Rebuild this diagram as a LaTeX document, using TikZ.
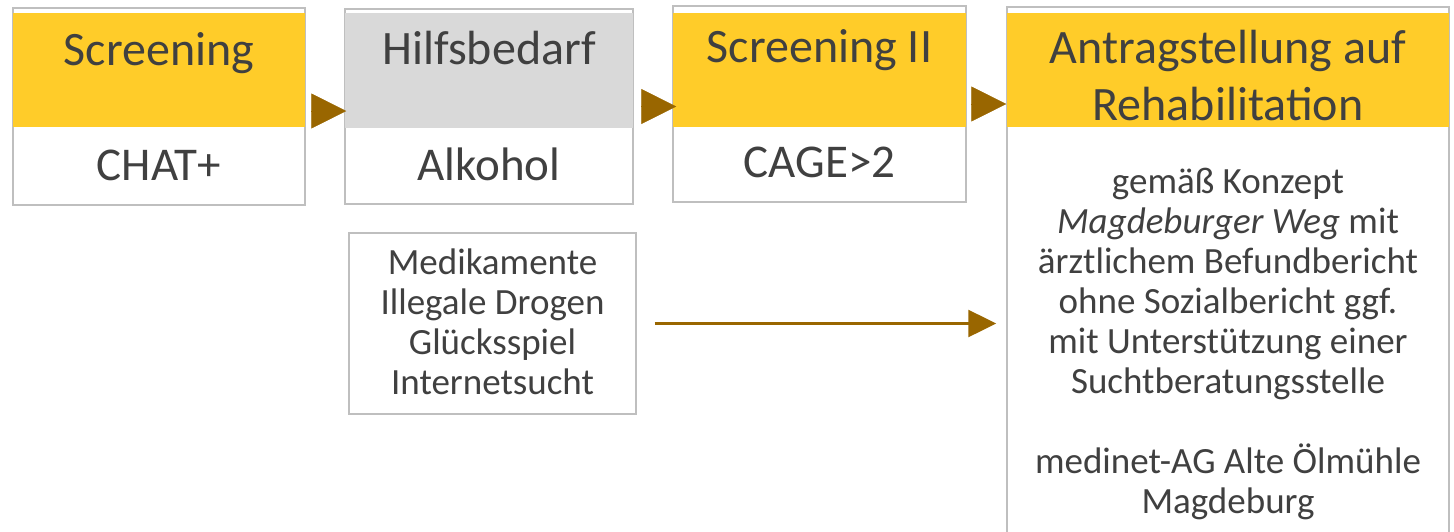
\documentclass[tikz,border=0pt]{standalone}
\usepackage{fontspec}
\setmainfont{Carlito}
\usetikzlibrary{arrows.meta,positioning,calc}
\definecolor{stageyellow}{RGB}{255,204,41}
\definecolor{stagegrey}{RGB}{217,217,217}
\definecolor{framegrey}{RGB}{191,191,191}
\definecolor{arrowbrown}{RGB}{153,102,0}
\definecolor{txtgrey}{RGB}{64,64,64}

\begin{document}
\begin{tikzpicture}[
    x=1pt, y=-1pt,
    frame/.style={rectangle, draw=framegrey, line width=1.5pt, fill=white, inner sep=0pt},
    head/.style={rectangle, fill=stageyellow, inner sep=0pt, minimum height=114pt},
    greyhead/.style={head, fill=stagegrey},
    title/.style={inner sep=0pt, anchor=base, text=txtgrey, align=center, font=\fontsize{48}{57}\selectfont},
    bodytxt/.style={inner sep=0pt, anchor=base, text=txtgrey, font=\fontsize{47}{56}\selectfont},
    smalltxt/.style={inner sep=0pt, anchor=base, text=txtgrey, align=center, font=\fontsize{37}{40}\selectfont},
    tri/.style={-{Triangle[length=35pt,width=35pt]}, arrowbrown, line width=0.5pt},
    flow/.style={-{Triangle[length=28pt,width=27pt]}, arrowbrown, line width=2.5pt},
]
    \clip (0,0) rectangle (1454,531);
    % stage 1
    \node[frame, minimum width=292pt, minimum height=197pt] (s1frame) at (159,106.5) {};
    \node[head, minimum width=292pt] (s1head) at (159,70) {};
    \node[title] (s1title) at (159,65) {Screening};
    \node[bodytxt] (s1body) at (159,180) {CHAT+};
    % stage 2
    \node[frame, minimum width=288pt, minimum height=195pt] (s2frame) at (489,106.5) {};
    \node[greyhead, minimum width=288pt, minimum height=115pt] (s2head) at (489,70.5) {};
    \node[title] (s2title) at (489,64) {Hilfsbedarf};
    \node[bodytxt] (s2body) at (489,180) {Alkohol};
    % stage 3
    \node[frame, minimum width=293pt, minimum height=196pt] (s3frame) at (819.5,104) {};
    \node[head, minimum width=293pt] (s3head) at (819.5,70) {};
    \node[title] (s3title) at (819.5,62) {Screening II};
    \node[bodytxt] (s3body) at (819.5,177) {CAGE>2};
    % stage 4 (last line sits on the base anchor)
    \node[frame, minimum width=442pt, minimum height=546pt] (s4frame) at (1228,280) {};
    \node[head, minimum width=442pt] (s4head) at (1228,70) {};
    \node[title] (s4title) at (1228,120) {Antragstellung auf\\Rehabilitation};
    \node[smalltxt] (s4body) at (1228,513) {gemäß Konzept\\\textit{Magdeburger Weg} mit\\ärztlichem Befundbericht\\ohne Sozialbericht ggf.\\mit Unterstützung einer\\Suchtberatungsstelle\\[40pt]medinet-AG Alte Ölmühle\\Magdeburg};
    % other addictions
    \node[frame, line width=1.2pt, minimum width=287pt, minimum height=181pt] (other) at (492.5,323.5) {};
    \node[smalltxt] (othertxt) at (492.5,394) {Medikamente\\Illegale Drogen\\Glücksspiel\\Internetsucht};

    \draw[tri, shorten <=8pt, shorten >=-2pt] ([yshift=-4.5pt]s1frame.east) -- ([yshift=-4.5pt]s1frame.east -| s2frame.west);
    \draw[tri, shorten <=8pt, shorten >=-4pt] (s2frame.east) -- (s2frame.east -| s3frame.west);
    \draw[tri, shorten <=4pt, shorten >=0pt] (s3frame.east) -- (s3frame.east -| s4frame.west);
    \draw[flow, shorten <=18pt, shorten >=10pt] (other.east) -- (other.east -| s4frame.west);
\end{tikzpicture}
\end{document}
